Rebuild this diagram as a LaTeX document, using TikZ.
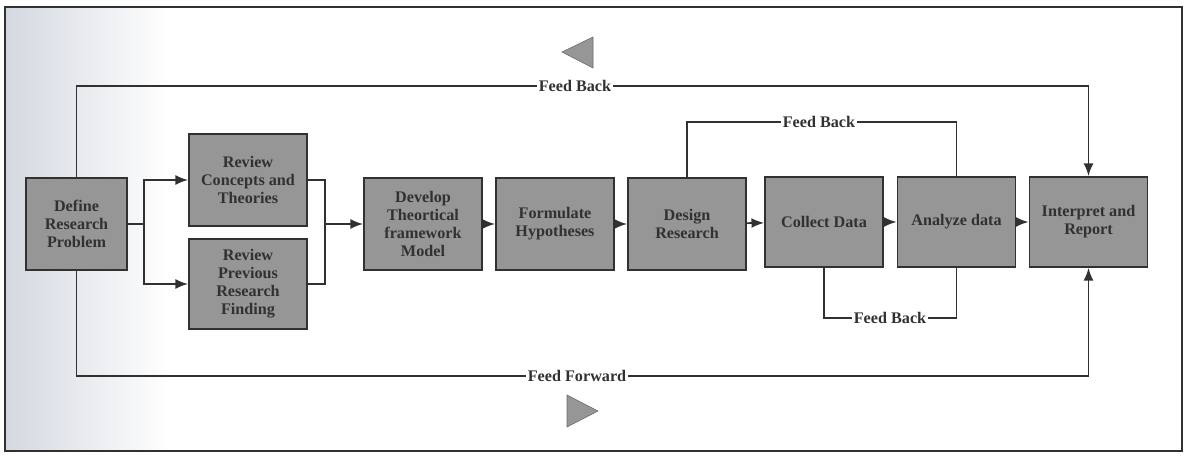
\documentclass[tikz,border=0pt]{standalone}
\usepackage{fontspec}
\setmainfont{Liberation Serif}
\definecolor{boxfill}{RGB}{150,150,150}
\definecolor{ink}{RGB}{48,50,50}
\definecolor{scan}{RGB}{212,216,224}
\usepackage{tikz}
\usetikzlibrary{arrows.meta,positioning}

\begin{document}
\begin{tikzpicture}[x=0.025cm,y=-0.025cm,
    stagebox/.style={draw=ink, line width=1.2pt, fill=boxfill, text=ink,
      minimum width=2.95cm, minimum height=2.3cm, inner sep=2pt, align=center,
      font=\fontsize{11.5}{12.8}\selectfont\bfseries},
    fbtext/.style={fill=white, text=ink, inner sep=1pt,
      font=\fontsize{11.5}{12}\selectfont\bfseries},
    flow/.style={draw=ink, line width=1.2pt},
    tip/.style={-{Latex[length=9pt,width=7pt]}}]
  \useasboundingbox (0,0) rectangle (1184,455);
  \shade[left color=scan, right color=white] (5,7) rectangle (170,451);
  \draw[ink, line width=1pt] (5,7) rectangle (1182,451);

  \node[stagebox, minimum width=2.525cm] (prob) at (76.5,224) {Define\\Research\\Problem};
  \node[stagebox] (concepts) at (248,180) {Review\\Concepts and\\Theories};
  \node[stagebox, minimum height=2.25cm] (previous) at (248,284) {Review\\Previous\\Research\\Finding};
  \node[stagebox] (develop) at (423,224) {Develop\\Theortical\\framework\\Model};
  \node[stagebox] (hypo) at (555,224) {Formulate\\Hypotheses};
  \node[stagebox] (design) at (687,224) {Design\\Research};
  \node[stagebox, minimum height=2.25cm] (collect) at (824,222) {Collect Data};
  \node[stagebox, minimum height=2.25cm] (analyze) at (956.5,222) {Analyze data};
  \node[stagebox, minimum height=2.25cm] (report) at (1088.5,222) {Interpret and\\Report};

  \coordinate (splitL) at (144,224);
  \coordinate (joinR) at (325,224);
  \coordinate (fbtop) at (0,86);
  \coordinate (fbmid) at (0,122);
  \coordinate (fblow) at (0,318);
  \coordinate (ffwd) at (0,376);

  \draw[flow] (prob.east) -- (splitL);
  \draw[flow,tip] (splitL) |- (concepts.west);
  \draw[flow,tip] (splitL) |- (previous.west);
  \draw[flow] (concepts.east) -| (joinR);
  \draw[flow] (previous.east) -| (joinR);
  \draw[flow,tip] (joinR) -- (develop.west);
  \draw[flow,tip] (develop) -- (hypo);
  \draw[flow,tip] (hypo) -- (design);
  \draw[flow,tip] (design) -- (collect);
  \draw[flow,tip] (collect) -- (analyze);
  \draw[flow,tip] (analyze) -- (report);

  \draw[flow,tip] (prob.north) |- (report.north |- fbtop) -- (report.north);
  \draw[flow] (design.north) |- (analyze.north |- fbmid) -- (analyze.north);
  \draw[flow] (collect.south) |- (analyze.south |- fblow) -- (analyze.south);
  \draw[flow,tip] (prob.south) |- (report.south |- ffwd) -- (report.south);

  \node[fbtext] (backtop) at (575,86) {Feed Back};
  \node[fbtext] (backmid) at (819,122) {Feed Back};
  \node[fbtext] (backlow) at (890,318) {Feed Back};
  \node[fbtext] (forward) at (577,376) {Feed Forward};

  \fill[boxfill, draw=boxfill!70!black, thin] (562,52) -- (593,37) -- (593,68) -- cycle;
  \fill[boxfill, draw=boxfill!70!black, thin] (598,411) -- (567,395) -- (567,427) -- cycle;
\end{tikzpicture}
\end{document}
